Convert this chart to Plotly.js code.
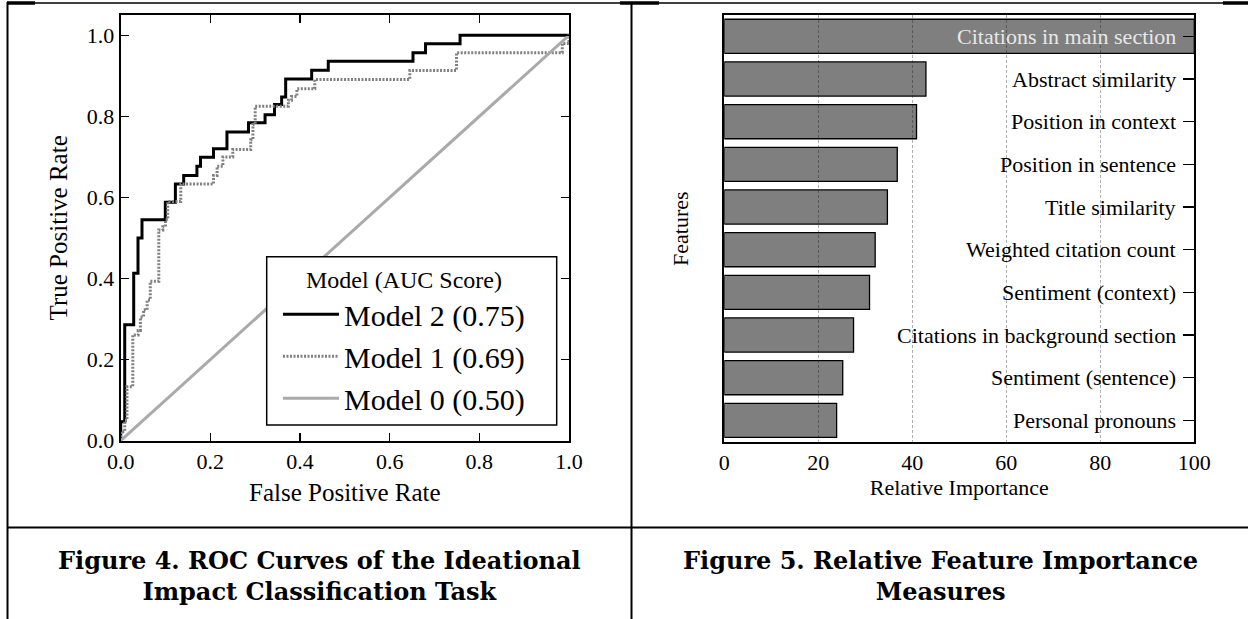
<!DOCTYPE html>
<html>
<head>
<meta charset="utf-8">
<script src="https://cdn.plot.ly/plotly-3.0.1.min.js"></script>
<style>
  html, body { margin: 0; padding: 0; background: #fff; }
  #chart { width: 1248px; height: 619px; }
</style>
</head>
<body>
<div id="chart"></div>
<script>
// ---------- Data: ROC curves (Figure 4) ----------
const fprModel2 = [0, 0, 0.009, 0.029, 0.0386, 0.0475, 0.0995, 0.122, 0.1405, 0.170, 0.178, 0.207, 0.237, 0.285, 0.322, 0.343, 0.359, 0.368, 0.426, 0.463, 0.652, 0.680, 0.757, 1.0];
const tprModel2 = [0, 0.047, 0.286, 0.413, 0.500, 0.545, 0.588, 0.633, 0.654, 0.677, 0.699, 0.720, 0.7615, 0.784, 0.804, 0.829, 0.848, 0.892, 0.914, 0.936, 0.957, 0.979, 1.0, 1.0];

const fprModel1 = [0, 0, 0.009, 0.014, 0.027, 0.039, 0.044, 0.051, 0.059, 0.066, 0.085, 0.094, 0.100, 0.105, 0.134, 0.207, 0.215, 0.228, 0.250, 0.290, 0.295, 0.300, 0.374, 0.381, 0.393, 0.433, 0.645, 0.749, 0.985, 1.0];
const tprModel1 = [0, 0.022, 0.050, 0.133, 0.261, 0.272, 0.305, 0.323, 0.347, 0.393, 0.520, 0.528, 0.545, 0.590, 0.633, 0.654, 0.677, 0.700, 0.718, 0.742, 0.780, 0.825, 0.840, 0.849, 0.868, 0.891, 0.913, 0.957, 0.980, 1.0];

const fprModel0 = [0, 1];
const tprModel0 = [0, 1];

const modelNames = ['Model 2 (0.75)', 'Model 1 (0.69)', 'Model 0 (0.50)'];
const rocTicks = [0.0, 0.2, 0.4, 0.6, 0.8, 1.0];

// ---------- Data: feature importance (Figure 5) ----------
const features = [
  'Citations in main section',
  'Abstract similarity',
  'Position in context',
  'Position in sentence',
  'Title similarity',
  'Weighted citation count',
  'Sentiment (context)',
  'Citations in background section',
  'Sentiment (sentence)',
  'Personal pronouns'
];
const importance = [100, 42.9, 40.9, 36.8, 34.7, 32.1, 30.9, 27.5, 25.2, 23.9];
const importanceTicks = [0, 20, 40, 60, 80, 100];

const captions = [
  'Figure 4. ROC Curves of the Ideational<br>Impact Classification Task',
  'Figure 5. Relative Feature Importance<br>Measures'
];

// ---------- Styling ----------
const W = 1248, H = 619;
const px = v => v / W;
const py = v => 1 - v / H;
const serif = 'Liberation Serif, Times New Roman, serif';

const traces = [
  {
    x: fprModel2, y: tprModel2, type: 'scatter', mode: 'lines',
    name: modelNames[0], line: { color: '#000000', width: 3, shape: 'hv' },
    xaxis: 'x', yaxis: 'y'
  },
  {
    x: fprModel1, y: tprModel1, type: 'scatter', mode: 'lines',
    name: modelNames[1], line: { color: '#808080', width: 3, dash: '2px,1.5px', shape: 'hv' },
    xaxis: 'x', yaxis: 'y'
  },
  {
    x: fprModel0, y: tprModel0, type: 'scatter', mode: 'lines',
    name: modelNames[2], line: { color: '#aaaaaa', width: 3 },
    xaxis: 'x', yaxis: 'y'
  },
  {
    x: importance, y: features, type: 'bar', orientation: 'h',
    width: 0.8, showlegend: false,
    marker: { color: 'rgba(0,0,0,0.5)', line: { color: '#000000', width: 1.3 } },
    xaxis: 'x2', yaxis: 'y2', hoverinfo: 'x+y'
  }
];

function hline(x0, x1, y, w) {
  return { type: 'line', xref: 'paper', yref: 'paper', x0: px(x0), x1: px(x1), y0: py(y), y1: py(y),
           line: { color: '#000', width: w } };
}
function vline(x, y0, y1, w) {
  return { type: 'line', xref: 'paper', yref: 'paper', x0: px(x), x1: px(x), y0: py(y0), y1: py(y1),
           line: { color: '#000', width: w } };
}

// feature names drawn inside the plot next to the right-hand axis
const featureLabels = features.map((f, i) => ({
  xref: 'x2 domain', x: 1, xanchor: 'right', xshift: -16,
  yref: 'y2', y: i, yanchor: 'middle',
  text: f, showarrow: false,
  font: { family: serif, size: 22, color: i === 0 ? '#e8e8e8' : '#000' }
}));

const layout = {
  width: W, height: H,
  margin: { l: 0, r: 0, t: 0, b: 0 },
  paper_bgcolor: '#ffffff', plot_bgcolor: '#ffffff',
  font: { family: serif, color: '#000', size: 22 },
  showlegend: true,
  legend: {
    x: px(278), y: py(257), xanchor: 'left', yanchor: 'top',
    bgcolor: 'rgba(0,0,0,0)', borderwidth: 0,
    font: { family: serif, size: 30, color: '#000' },
    title: { text: 'Model (AUC Score)', side: 'top center', font: { family: serif, size: 24 } },
    itemwidth: 56, tracegroupgap: 0,
    entrywidthmode: 'pixels', entrywidth: 210
  },
  xaxis: {
    domain: [px(120.7), px(569)], anchor: 'y',
    range: [0, 1], tickmode: 'array', tickvals: rocTicks, tickformat: '.1f',
    ticks: 'inside', ticklen: 8, tickwidth: 1.2, tickcolor: '#000',
    showline: true, linecolor: '#000', linewidth: 2, mirror: 'ticks',
    showgrid: false, zeroline: false,
    tickfont: { family: serif, size: 22 },
    title: { text: 'False Positive Rate', font: { family: serif, size: 25 }, standoff: 10 }
  },
  yaxis: {
    domain: [py(440.7), py(15)], anchor: 'x',
    range: [0, 1.05], tickmode: 'array', tickvals: rocTicks, tickformat: '.1f',
    ticks: 'inside', ticklen: 8, tickwidth: 1.2, tickcolor: '#000',
    showline: true, linecolor: '#000', linewidth: 2, mirror: 'ticks',
    showgrid: false, zeroline: false,
    tickfont: { family: serif, size: 22 },
    title: { text: 'True Positive Rate', font: { family: serif, size: 25 }, standoff: 12 }
  },
  xaxis2: {
    domain: [px(724.3), px(1194.3)], anchor: 'y2',
    range: [0, 100], tickmode: 'array', tickvals: importanceTicks,
    ticks: '', showline: true, linecolor: '#000', linewidth: 2, mirror: true,
    showgrid: true, gridcolor: '#b0b0b0', gridwidth: 1, griddash: '3px,2px',
    zeroline: false,
    tickfont: { family: serif, size: 22 },
    title: { text: 'Relative Importance', font: { family: serif, size: 22 }, standoff: 5 }
  },
  yaxis2: {
    domain: [py(441.7), py(15)], anchor: 'x2',
    type: 'category', autorange: 'reversed',
    side: 'right', ticks: 'inside', ticklen: 11, tickwidth: 1.2, tickcolor: '#000',
    showticklabels: false,
    showline: true, linecolor: '#000', linewidth: 2, mirror: true,
    showgrid: false, zeroline: false
  },
  annotations: featureLabels.concat([
    {
      xref: 'paper', yref: 'paper', x: px(680), y: py(228), text: 'Features',
      showarrow: false, textangle: -90, font: { family: serif, size: 22 },
      xanchor: 'center', yanchor: 'middle'
    },
    {
      xref: 'paper', yref: 'paper', x: px(319.5), y: py(576), text: captions[0],
      showarrow: false, align: 'center',
      font: { family: 'DejaVu Serif, serif', size: 24, weight: 'bold', color: '#000' },
      xanchor: 'center', yanchor: 'middle'
    },
    {
      xref: 'paper', yref: 'paper', x: px(940), y: py(576), text: captions[1],
      showarrow: false, align: 'center',
      font: { family: 'DejaVu Serif, serif', size: 24, weight: 'bold', color: '#000' },
      xanchor: 'center', yanchor: 'middle'
    }
  ]),
  shapes: [
    // legend frame (white box over the curves)
    { type: 'rect', xref: 'paper', yref: 'paper', layer: 'above',
      x0: px(266.7), x1: px(556.7), y0: py(425), y1: py(256.7),
      fillcolor: '#ffffff', line: { color: '#000', width: 1.5 } },
    hline(7, 1248, 3, 1.5),
    hline(7, 35, 3, 3.5),
    hline(620, 659, 3, 3.5),
    hline(1223, 1248, 3, 3.5),
    vline(7.5, 2, 619, 2),
    vline(631.5, 2, 619, 2),
    hline(7, 1248, 527.5, 2)
  ]
};

Plotly.newPlot('chart', traces, layout, { displayModeBar: false, staticPlot: true });
</script>
</body>
</html>
